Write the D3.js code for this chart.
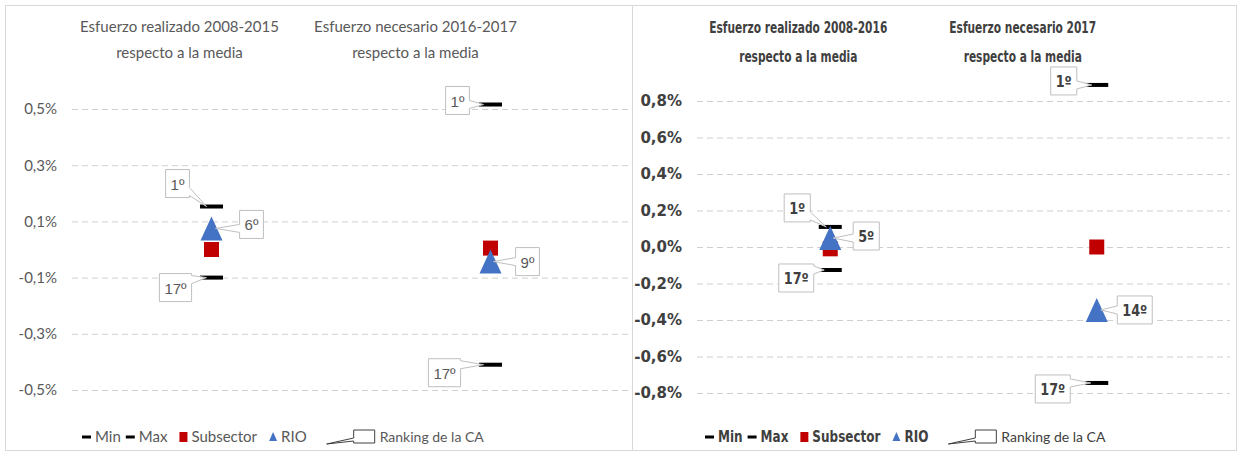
<!DOCTYPE html>
<html>
<head>
<meta charset="utf-8">
<script src="https://cdn.jsdelivr.net/npm/d3@7"></script>
<style>
body { margin: 0; background: #fff; }
svg { display: block; }
</style>
</head>
<body>
<svg id="chart" width="1238" height="452"></svg>
<script>
// ---- data (values in %) ----
// left chart: 2008-2015 / 2016-2017
var titlesL = [["Esfuerzo realizado 2008-2015", "respecto a la media"], ["Esfuerzo necesario 2016-2017", "respecto a la media"]];
var minL = [-0.10, -0.41];
var maxL = [0.153, 0.516];
var subsectorL = [0.0, 0.005];
var rioL = [0.075, -0.043];
var rankL = ["6º", "9º"];
var ticksL = [0.5, 0.3, 0.1, -0.1, -0.3, -0.5];

// right chart: 2008-2016 / 2017
var titlesR = [["Esfuerzo realizado 2008-2016", "respecto a la media"], ["Esfuerzo necesario 2017", "respecto a la media"]];
var minR = [-0.126, -0.745];
var maxR = [0.11, 0.888];
var subsectorR = [-0.01, 0.0];
var rioR = [0.049, -0.345];
var rankR = ["5º", "14º"];
var ticksR = [0.8, 0.6, 0.4, 0.2, 0.0, -0.2, -0.4, -0.6, -0.8];

var maxRank = "1º";
var minRank = "17º";
var legendLabels = ["Min", "Max", "Subsector", "RIO", "Ranking de la CA"];

//colors
var colors = {
    "subsector": "#c00000",
    "rio": "#4472c4",
    "bar": "#000000",
    "grid": "#cfcfcf",
    "frame": "#d9d9d9",
    "callout": "#bfbfbf"
};

var svg = d3.select("#chart");

var locale = d3.formatLocale({decimal: ",", thousands: ".", grouping: [3], currency: ["", "€"], minus: "-"});
var fmt = locale.format(".1f");

// panel layout (pixels)
var panels = [
    {
        frame: [5, 5, 627, 445], plot: [72, 630], y: [[0.5, 109], [-0.5, 390]],
        titleX: [-32, -75], titleY: [32, 58], titleSx: 1,
        font: "Lato, sans-serif", labelFont: "'Liberation Sans', Arial, sans-serif", weight: "normal", sx: 1,
        textColor: "#595959", labelSize: "15px",
        legendX: 82,
        callouts: [
            {max: [-34, -23, -5], rio: [40, -4, 4], min: [-36, 10, -5]},
            {max: [-33, -4, -7], rio: [37, 0, 3], min: [-46, 8, -7]}
        ],
        titles: titlesL, mins: minL, maxs: maxL, subs: subsectorL, rios: rioL, ranks: rankL, ticks: ticksL
    },
    {
        frame: [632, 5, 604, 445], plot: [697, 1230], y: [[0.8, 101], [-0.8, 393]],
        titleX: [-32, -74], titleY: [33, 62], titleSx: 0.71,
        font: "'DejaVu Sans', sans-serif", labelFont: "'DejaVu Sans', sans-serif", weight: "bold", sx: 0.8,
        textColor: "#404040", labelSize: "16px",
        legendX: 705,
        callouts: [
            {max: [-33, -19, -4], rio: [36, -2, 3], min: [-34, 8, -6]},
            {max: [-33, -4, -5], rio: [38, 0, 4], min: [-44, 6, -6]}
        ],
        titles: titlesR, mins: minR, maxs: maxR, subs: subsectorR, rios: rioR, ranks: rankR, ticks: ticksR
    }
];

panels.forEach(drawPanel);

// text placed at (x,y), squeezed horizontally by p.sx
function addText(g, p, x, y, str, opts) {
    opts = opts || {};
    var sx = opts.sx || p.sx;
    var t = g.append("text")
        .attr("transform", "translate(" + x + "," + y + ") scale(" + sx + ",1)")
        .attr("text-anchor", opts.anchor || "start")
        .attr("fill", p.textColor)
        .style("font-family", opts.font || p.font)
        .style("font-weight", opts.weight || p.weight)
        .style("font-size", opts.size || "15px")
        .text(str);
    return t;
}

function drawPanel(p) {
    var g = svg.append("g");

    // frame
    g.append("rect")
        .attr("x", p.frame[0] + 0.5).attr("y", p.frame[1] + 0.5)
        .attr("width", p.frame[2]).attr("height", p.frame[3])
        .attr("fill", "none").attr("stroke", colors.frame);

    var x = d3.scaleBand().domain([0, 1]).range(p.plot);
    var y = d3.scaleLinear().domain([p.y[0][0], p.y[1][0]]).range([p.y[0][1], p.y[1][1]]);

    // axis + gridlines
    var axis = d3.axisLeft(y)
        .tickValues(p.ticks)
        .tickFormat(function(d) { return fmt(d) + "%"; })
        .tickSize(-(p.plot[1] - p.plot[0]))
        .tickPadding(15);
    var ax = g.append("g").attr("transform", "translate(" + p.plot[0] + ",0)").call(axis);
    ax.select(".domain").remove();
    ax.selectAll(".tick line")
        .attr("stroke", colors.grid)
        .attr("stroke-dasharray", "6,4");
    ax.selectAll(".tick text")
        .attr("fill", p.textColor)
        .style("font-family", p.font)
        .style("font-weight", p.weight)
        .style("font-size", "15px");

    var cx = function(i) { return x(i) + x.bandwidth() / 2; };

    // titles
    p.titles.forEach(function(t, i) {
        t.forEach(function(line, j) {
            addText(g, p, cx(i) + p.titleX[i], p.titleY[j], line, {anchor: "middle", sx: p.titleSx});
        });
    });

    var marks = g.append("g");
    var labels = g.append("g");

    // max / min bars
    [p.maxs, p.mins].forEach(function(arr) {
        marks.selectAll(null).data(arr).enter().append("rect")
            .attr("x", function(d, i) { return cx(i) - 11.5; })
            .attr("y", function(d) { return y(d) - 2; })
            .attr("width", 23).attr("height", 4)
            .attr("fill", colors.bar);
    });

    // subsector squares
    marks.selectAll(null).data(p.subs).enter().append("rect")
        .attr("x", function(d, i) { return cx(i) - 7.5; })
        .attr("y", function(d) { return y(d) - 7.5; })
        .attr("width", 15).attr("height", 15)
        .attr("fill", colors.subsector);

    // RIO triangles
    marks.selectAll(null).data(p.rios).enter().append("path")
        .attr("d", function(d, i) {
            var px = cx(i), py = y(d);
            return "M" + px + "," + (py - 12) + "L" + (px + 11) + "," + (py + 12) + "L" + (px - 11) + "," + (py + 12) + "Z";
        })
        .attr("fill", colors.rio);

    // ranking callouts
    for (var i = 0; i < 2; i++) {
        var c = p.callouts[i];
        callout(labels, p, cx(i), y(p.maxs[i]), c.max, maxRank);
        callout(labels, p, cx(i), y(p.rios[i]), c.rio, p.ranks[i]);
        callout(labels, p, cx(i), y(p.mins[i]), c.min, minRank);
    }

    drawLegend(g, p);
}

// box centred at (px+dx, py+dy), pointer tip at (px+tipDx, py)
function callout(g, p, px, py, off, label) {
    var bx = px + off[0], by = py + off[1];
    var t = addText(g, p, bx, by + 6, label, {anchor: "middle", font: p.labelFont, size: p.labelSize});
    var w = t.node().getComputedTextLength() * p.sx + 10;
    var h = 28;
    var x0 = bx - w / 2, x1 = bx + w / 2, y0 = by - h / 2, y1 = by + h / 2;
    var tx = px + off[2], ty = py;
    var side = off[0] < 0 ? "right" : "left";
    var c = Math.max(y0 + 6, Math.min(y1 - 6, ty));
    var b1 = c - 4, b2 = c + 4;
    var d;
    if (side == "right") {
        d = "M" + x0 + "," + y0 + "H" + x1 + "V" + b1 + "L" + tx + "," + ty + "L" + x1 + "," + b2 + "V" + y1 + "H" + x0 + "Z";
    } else {
        d = "M" + x0 + "," + y0 + "H" + x1 + "V" + y1 + "H" + x0 + "V" + b2 + "L" + tx + "," + ty + "L" + x0 + "," + b1 + "Z";
    }
    g.insert("path", function() { return t.node(); })
        .attr("d", d)
        .attr("fill", "#fff")
        .attr("stroke", colors.callout)
        .attr("stroke-width", 1);
}

function drawLegend(g, p) {
    var ly = 437;
    var xPos = p.legendX;
    var gaps = [5, 12, 12, 20, 0];
    legendLabels.forEach(function(lab, i) {
        var iconW;
        if (i < 2) {
            g.append("rect").attr("x", xPos).attr("y", ly - 1.5).attr("width", 9).attr("height", 3).attr("fill", colors.bar);
            iconW = 9;
        } else if (i == 2) {
            g.append("rect").attr("x", xPos).attr("y", ly - 5).attr("width", 8).attr("height", 10).attr("fill", colors.subsector);
            iconW = 8;
        } else if (i == 3) {
            g.append("path").attr("d", "M" + (xPos + 4) + "," + (ly - 5) + "L" + (xPos + 8) + "," + (ly + 4) + "L" + xPos + "," + (ly + 4) + "Z").attr("fill", colors.rio);
            iconW = 8;
        } else {
            // little callout icon
            var bx0 = xPos + 27, bx1 = xPos + 48;
            g.append("path")
                .attr("d", "M" + bx0 + "," + (ly - 7) + "H" + bx1 + "V" + (ly + 6) + "H" + bx0 + "V" + (ly + 4) + "L" + xPos + "," + (ly + 7) + "L" + bx0 + "," + (ly + 1) + "Z")
                .attr("fill", "#fff").attr("stroke", "#404040").attr("stroke-width", 1);
            iconW = 48;
        }
        var last = i == 4;
        var t = last
            ? addText(g, p, xPos + iconW + 5, ly + 5, lab, {font: "Lato, sans-serif", weight: "normal", size: "14px", sx: 1})
            : addText(g, p, xPos + iconW + 4, ly + 5, lab);
        var w = t.node().getComputedTextLength() * (last ? 1 : p.sx);
        xPos += iconW + 4 + w + gaps[i];
    });
}
</script>
</body>
</html>
